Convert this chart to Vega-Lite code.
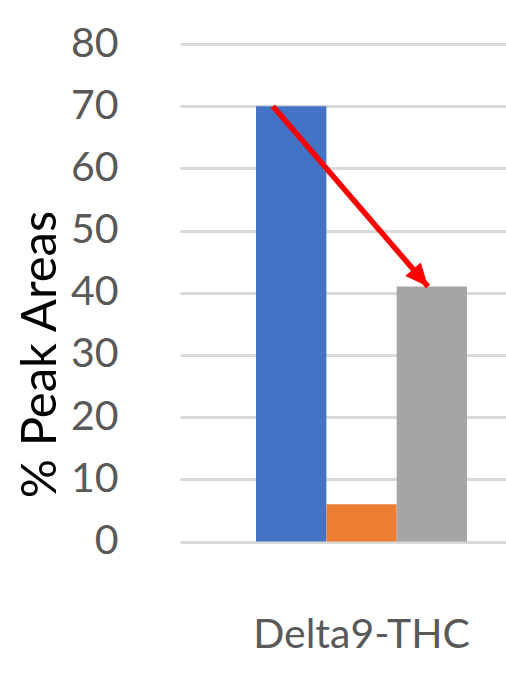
{
  "$schema": "https://vega.github.io/schema/vega-lite/v6.json",
  "width": 326,
  "height": 497.5,
  "autosize": "none",
  "padding": {"left": 180, "top": 44, "right": 0, "bottom": 131.5},
  "background": "#ffffff",
  "config": {"view": {"stroke": null}, "font": "Lato"},
  "data": {
    "values": [
      {"compound": "Delta9-THC", "series": "Series 1", "peak": 70},
      {"compound": "Delta9-THC", "series": "Series 2", "peak": 6},
      {"compound": "Delta9-THC", "series": "Series 3", "peak": 41}
    ]
  },
  "encoding": {
    "x": {
      "field": "compound",
      "type": "nominal",
      "scale": {"paddingInner": 0, "paddingOuter": 0.2725, "align": 0.661},
      "axis": {
        "title": null,
        "domain": false,
        "ticks": false,
        "labelFont": "Lato",
        "labelFontSize": 41,
        "labelColor": "#595959",
        "labelAngle": 0,
        "labelAlign": "center",
        "labelLimit": 0,
        "labelBaseline": "alphabetic",
        "labelPadding": 106
      }
    },
    "y": {
      "field": "peak",
      "type": "quantitative",
      "scale": {"domain": [0, 80], "nice": false},
      "axis": {
        "values": [0, 10, 20, 30, 40, 50, 60, 70, 80],
        "grid": true,
        "gridColor": "#d9d9d9",
        "gridWidth": 3,
        "domain": false,
        "ticks": false,
        "labelFont": "Lato",
        "labelFontSize": 41,
        "labelColor": "#595959",
        "labelPadding": 62,
        "title": "% Peak Areas",
        "titleFont": "Lato",
        "titleFontSize": 49,
        "titleFontWeight": "normal",
        "titleColor": "#000000",
        "titleAngle": -90,
        "titleAlign": "center",
        "titleBaseline": "alphabetic",
        "titleX": -125,
        "titleY": 310
      }
    }
  },
  "layer": [
    {
      "mark": {"type": "bar"},
      "encoding": {
        "xOffset": {"field": "series", "type": "nominal", "scale": {"paddingInner": 0, "paddingOuter": 0}},
        "color": {
          "field": "series",
          "type": "nominal",
          "scale": {"range": ["#4472C4", "#ED7D31", "#A5A5A5"]},
          "legend": null
        }
      }
    },
    {
      "transform": [
        {"pivot": "series", "value": "peak", "groupby": ["compound"]}
      ],
      "mark": {"type": "rule", "color": "#FF0000", "strokeWidth": 5.5},
      "encoding": {
        "x": {"field": "compound", "type": "nominal", "bandPosition": 0.08},
        "x2": {"field": "compound", "bandPosition": 0.815},
        "y": {"field": "Series 1", "type": "quantitative"},
        "y2": {"field": "Series 3"}
      }
    },
    {
      "transform": [{"filter": "datum.series === 'Series 3'"}],
      "mark": {
        "type": "point",
        "shape": "M0,0L-0.45,-1L0.45,-1Z",
        "filled": true,
        "color": "#FF0000",
        "opacity": 1,
        "size": 2100,
        "angle": -40.8
      },
      "encoding": {
        "x": {"field": "compound", "type": "nominal", "bandPosition": 0.815}
      }
    }
  ]
}
